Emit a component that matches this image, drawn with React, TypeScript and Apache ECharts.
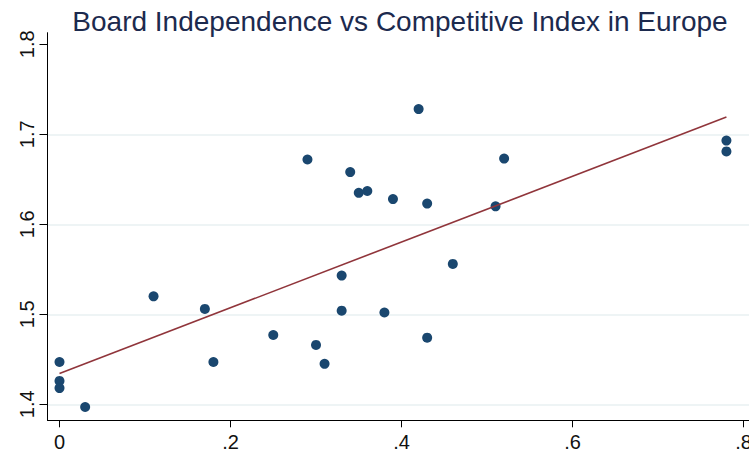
import React, { useEffect, useRef } from "react";
import * as echarts from "echarts";

const titleText = "Board Independence vs Competitive Index in Europe";

// Board independence (x) and competitive index (y)
const boardIndependence = [
  0, 0, 0, 0.03, 0.11, 0.17, 0.18, 0.25, 0.3, 0.31, 0.33, 0.33, 0.29,
  0.34, 0.35, 0.36, 0.39, 0.42, 0.43, 0.38, 0.43, 0.46, 0.51, 0.52, 0.78, 0.78,
];
const competitiveIndex = [
  1.447, 1.426, 1.418, 1.397, 1.52, 1.506, 1.447, 1.477, 1.466, 1.445, 1.543,
  1.504, 1.672, 1.658, 1.635, 1.637, 1.628, 1.728, 1.623, 1.502, 1.474, 1.556,
  1.62, 1.673, 1.693, 1.681,
];

const xTicks = [0, 0.2, 0.4, 0.6, 0.8];
const yTicks = [1.4, 1.5, 1.6, 1.7, 1.8];
const yGridTicks = [1.4, 1.5, 1.6, 1.7];

function linearFit(xs: number[], ys: number[]) {
  const n = xs.length;
  const mx = xs.reduce((a, b) => a + b, 0) / n;
  const my = ys.reduce((a, b) => a + b, 0) / n;
  let sxy = 0;
  let sxx = 0;
  for (let i = 0; i < n; i++) {
    sxy += (xs[i] - mx) * (ys[i] - my);
    sxx += (xs[i] - mx) * (xs[i] - mx);
  }
  const b = sxy / sxx;
  const a = my - b * mx;
  const lo = Math.min(...xs);
  const hi = Math.max(...xs);
  return [
    [lo, a + b * lo],
    [hi, a + b * hi],
  ];
}

export default function App() {
  const ref = useRef<HTMLDivElement>(null);

  useEffect(() => {
    document.body.style.margin = "0";
    if (!ref.current) return;
    const chart = echarts.init(ref.current, undefined, { renderer: "svg" });
    const font = "'Liberation Sans', Arial, sans-serif";
    const scatterData = boardIndependence.map((x, i) => [x, competitiveIndex[i]]);
    const fit = linearFit(boardIndependence, competitiveIndex);

    const option: any = {
      animation: false,
      backgroundColor: "#ffffff",
      title: {
        text: titleText,
        left: 395,
        top: 2,
        textAlign: "center",
        textStyle: {
          fontFamily: font,
          fontSize: 28,
          fontWeight: "normal",
          color: "#1c2a4e",
        },
      },
      grid: {
        left: 47.5,
        right: 0,
        top: 32.7,
        bottom: 38.7,
        containLabel: false,
        outerBoundsMode: "none",
      },
      xAxis: {
        type: "value",
        min: -0.01404,
        max: 0.8064,
        axisLine: { show: true, onZero: false, lineStyle: { color: "#000", width: 1 } },
        axisTick: {
          show: true,
          length: 7,
          customValues: xTicks,
          lineStyle: { color: "#000", width: 1 },
        },
        axisLabel: {
          customValues: xTicks,
          fontFamily: font,
          fontSize: 20,
          color: "#111",
          margin: 12,
          formatter: (v: number) => (v === 0 ? "0" : String(v).replace(/^0/, "")),
        },
        splitLine: { show: false },
      },
      yAxis: [
        {
          type: "value",
          min: 1.38222,
          max: 1.81289,
          axisLine: { show: true, onZero: false, lineStyle: { color: "#000", width: 1 } },
          axisTick: {
            show: true,
            length: 8,
            customValues: yTicks,
            lineStyle: { color: "#000", width: 1 },
          },
          axisLabel: {
            customValues: yTicks,
            rotate: 90,
            fontFamily: font,
            fontSize: 20,
            color: "#111",
            margin: 11,
            formatter: (v: number) => v.toFixed(1),
          },
          splitLine: { show: false },
        },
        {
          type: "value",
          min: 1.38222,
          max: 1.81289,
          position: "left",
          axisLine: { show: false },
          axisTick: { show: false, customValues: yGridTicks },
          axisLabel: { show: false, customValues: yGridTicks },
          splitLine: {
            show: true,
            lineStyle: { color: "#e8f0f2", width: 1.5 },
          },
        },
      ],
      series: [
        {
          type: "scatter",
          data: scatterData,
          yAxisIndex: 0,
          symbol: "circle",
          symbolSize: 10,
          itemStyle: { color: "#1a476f", opacity: 1 },
          z: 3,
        },
        {
          type: "line",
          data: fit,
          yAxisIndex: 0,
          showSymbol: false,
          symbol: "none",
          lineStyle: { color: "#90353b", width: 1.6 },
          z: 4,
        },
      ],
    };
    chart.setOption(option);
    return () => chart.dispose();
  }, []);

  return <div ref={ref} style={{ width: 749, height: 459 }} />;
}
